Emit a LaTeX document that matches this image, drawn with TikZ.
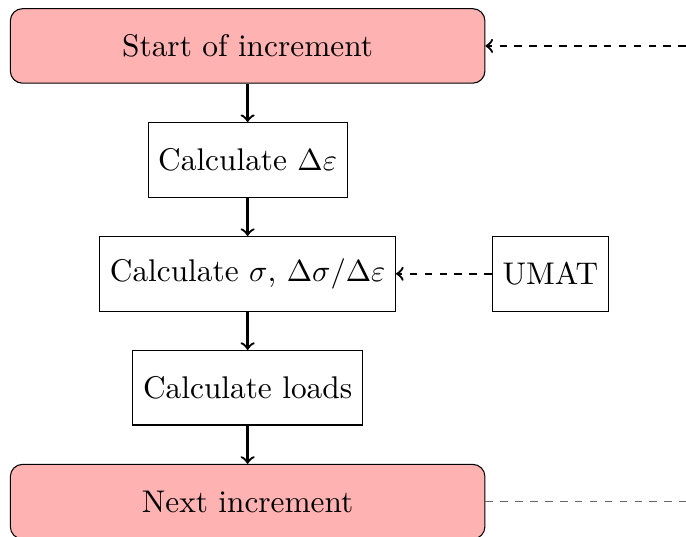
\documentclass[tikz,border=0pt]{standalone}
\usetikzlibrary{positioning}

\tikzset{
  stepbox/.style={draw, line width=0.35pt, minimum height=24.5pt},
  incbox/.style={stepbox, rounded corners, fill=red!30, minimum width=156pt},
  flow/.style={->, line width=0.75pt},
  feed/.style={->, line width=0.75pt, dash pattern=on 2.5pt off 2.4pt},
}

\begin{document}
\begin{tikzpicture}[node distance=12.6pt, font=\fontsize{10.3}{12.4}\selectfont]
  \useasboundingbox (-81.4pt,15.1pt) rectangle (144.1pt,-161.1pt);

  % main loop of one increment
  \node[incbox] (start) at (0,0) {Start of increment};
  \node[stepbox, below=of start] (strain) {Calculate \(\Delta\varepsilon\)};
  \node[stepbox, below=of strain] (stress) {Calculate \(\sigma\), \(\Delta\sigma/\Delta\varepsilon\)};
  \node[stepbox, right=31.5pt of stress] (umat) {UMAT};
  \node[stepbox, below=of stress] (loads) {Calculate loads};
  \node[incbox, below=of loads] (next) {Next increment};

  % loose ends of the loop back
  \coordinate (loopin) at (144.1pt,0);
  \coordinate (loopout) at (loopin |- next);

  \draw[flow] (start) -- (strain);
  \draw[flow] (strain) -- (stress);
  \draw[flow] (stress) -- (loads);
  \draw[flow] (loads) -- (next);
  \draw[feed] (umat) -- (stress);
  \draw[feed] (loopin) -- (start);
  \draw[black!60, line width=0.35pt, dash pattern=on 2.5pt off 2.4pt] (next) -- (loopout);
\end{tikzpicture}
\end{document}
